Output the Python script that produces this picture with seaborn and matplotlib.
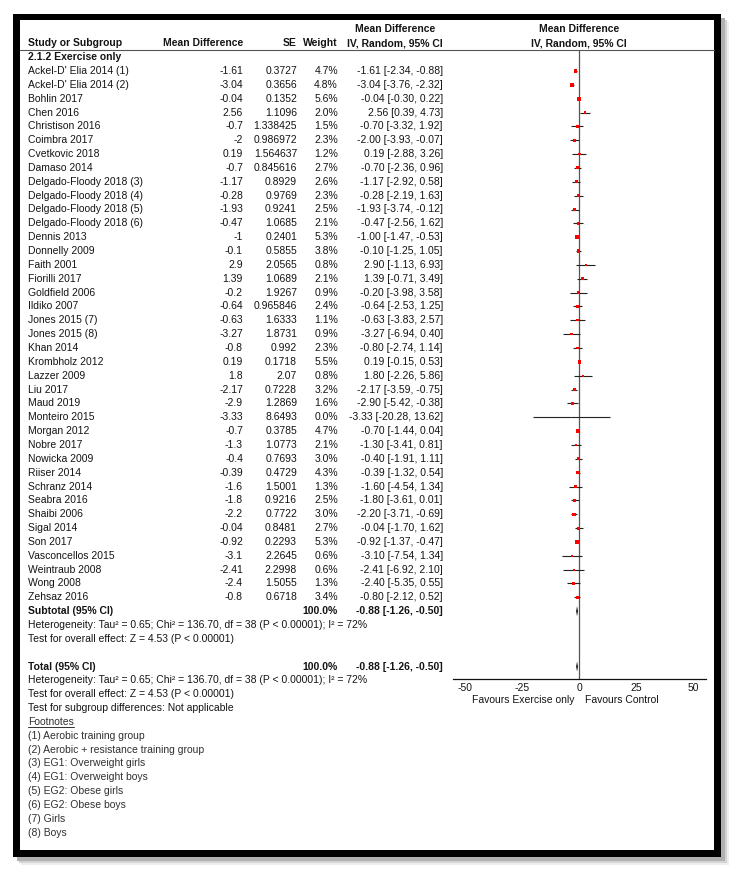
import matplotlib
matplotlib.use("Agg")
import matplotlib.pyplot as plt
import seaborn as sns
import numpy as np
import pandas as pd
from matplotlib.patches import Rectangle

# ---------------- data ----------------
studies = [
    "Ackel-D' Elia 2014 (1)", "Ackel-D' Elia 2014 (2)", "Bohlin 2017", "Chen 2016",
    "Christison 2016", "Coimbra 2017", "Cvetkovic 2018", "Damaso 2014",
    "Delgado-Floody 2018 (3)", "Delgado-Floody 2018 (4)", "Delgado-Floody 2018 (5)",
    "Delgado-Floody 2018 (6)", "Dennis 2013", "Donnelly 2009", "Faith 2001",
    "Fiorilli 2017", "Goldfield 2006", "Ildiko 2007", "Jones 2015 (7)", "Jones 2015 (8)",
    "Khan 2014", "Krombholz 2012", "Lazzer 2009", "Liu 2017", "Maud 2019",
    "Monteiro 2015", "Morgan 2012", "Nobre 2017", "Nowicka 2009", "Riiser 2014",
    "Schranz 2014", "Seabra 2016", "Shaibi 2006", "Sigal 2014", "Son 2017",
    "Vasconcellos 2015", "Weintraub 2008", "Wong 2008", "Zehsaz 2016",
]
mean_diff = [-1.61, -3.04, -0.04, 2.56, -0.7, -2, 0.19, -0.7, -1.17, -0.28, -1.93,
             -0.47, -1, -0.1, 2.9, 1.39, -0.2, -0.64, -0.63, -3.27, -0.8, 0.19, 1.8,
             -2.17, -2.9, -3.33, -0.7, -1.3, -0.4, -0.39, -1.6, -1.8, -2.2, -0.04,
             -0.92, -3.1, -2.41, -2.4, -0.8]
se = [0.3727, 0.3656, 0.1352, 1.1096, 1.338425, 0.986972, 1.564637, 0.845616, 0.8929,
      0.9769, 0.9241, 1.0685, 0.2401, 0.5855, 2.0565, 1.0689, 1.9267, 0.965846, 1.6333,
      1.8731, 0.992, 0.1718, 2.07, 0.7228, 1.2869, 8.6493, 0.3785, 1.0773, 0.7693,
      0.4729, 1.5001, 0.9216, 0.7722, 0.8481, 0.2293, 2.2645, 2.2998, 1.5055, 0.6718]
weight = [4.7, 4.8, 5.6, 2.0, 1.5, 2.3, 1.2, 2.7, 2.6, 2.3, 2.5, 2.1, 5.3, 3.8, 0.8,
          2.1, 0.9, 2.4, 1.1, 0.9, 2.3, 5.5, 0.8, 3.2, 1.6, 0.0, 4.7, 2.1, 3.0, 4.3,
          1.3, 2.5, 3.0, 2.7, 5.3, 0.6, 0.6, 1.3, 3.4]
ci_low = [-2.34, -3.76, -0.30, 0.39, -3.32, -3.93, -2.88, -2.36, -2.92, -2.19, -3.74,
          -2.56, -1.47, -1.25, -1.13, -0.71, -3.98, -2.53, -3.83, -6.94, -2.74, -0.15,
          -2.26, -3.59, -5.42, -20.28, -1.44, -3.41, -1.91, -1.32, -4.54, -3.61, -3.71,
          -1.70, -1.37, -7.54, -6.92, -5.35, -2.12]
ci_high = [-0.88, -2.32, 0.22, 4.73, 1.92, -0.07, 3.26, 0.96, 0.58, 1.63, -0.12, 1.62,
           -0.53, 1.05, 6.93, 3.49, 3.58, 1.25, 2.57, 0.40, 1.14, 0.53, 5.86, -0.75,
           -0.38, 13.62, 0.04, 0.81, 1.11, 0.54, 1.34, 0.01, -0.69, 1.62, -0.47, 1.34,
           2.10, 0.55, 0.52]
summary_md, summary_lo, summary_hi = -0.88, -1.26, -0.50
x_ticks = [-50, -25, 0, 25, 50]

header_group = "2.1.2 Exercise only"
het_text = "Heterogeneity: Tau\u00b2 = 0.65; Chi\u00b2 = 136.70, df = 38 (P < 0.00001); I\u00b2 = 72%"
effect_text = "Test for overall effect: Z = 4.53 (P < 0.00001)"
subgroup_text = "Test for subgroup differences: Not applicable"
footnotes = ["(1) Aerobic training group", "(2) Aerobic + resistance training group",
             "(3) EG1: Overweight girls", "(4) EG1: Overweight boys",
             "(5) EG2: Obese girls", "(6) EG2: Obese boys", "(7) Girls", "(8) Boys"]

# ---------------- style ----------------
sns.set_style("white")
plt.rcParams["font.family"] = ["Liberation Sans", "DejaVu Sans"]
plt.rcParams["axes.unicode_minus"] = False

W, H = 734, 874
FS = 7.45
Y0, P = 71.0, 13.85       # pixel y of first study row, row pitch
TXT = "#141414"
FOOT = "#303030"

fig = plt.figure(figsize=(W / 100, H / 100), dpi=100)
bg = fig.add_axes([0, 0, 1, 1])
bg.set_xlim(0, W)
bg.set_ylim(H, 0)
bg.axis("off")

# frame with shadow
for off, col in [(8, "#eeeeee"), (6, "#d4d4d4"), (4, "#b0b0b0")]:
    bg.add_patch(Rectangle((13 + off, 14 + off), 708, 843, fc=col, ec="none", zorder=0))
bg.add_patch(Rectangle((13, 14), 708, 843, fc="black", ec="none", zorder=1))
bg.add_patch(Rectangle((20, 20), 694, 830, fc="white", ec="none", zorder=2))


def row_y(r):
    return Y0 + P * r


def t(x, r, s, ha="left", bold=False, color=TXT):
    return bg.text(x, row_y(r), s, ha=ha, va="center", fontsize=FS,
                   fontweight="bold" if bold else "normal", color=color, zorder=5)


X_NAME, X_MD, X_SE, X_W, X_CI, X_CIC = 28, 243, 297, 338, 443, 395

# headers
t(X_CIC, -3, "Mean Difference", ha="center", bold=True)
t(579, -3, "Mean Difference", ha="center", bold=True)
t(X_NAME, -2, "Study or Subgroup", bold=True)
t(X_MD, -2, "Mean Difference", ha="right", bold=True)
t(X_SE, -2, "SE", ha="right", bold=True)
t(X_W, -2, "Weight", ha="right", bold=True)
t(X_CIC, -2, "IV, Random, 95% CI", ha="center", bold=True)
t(579, -2, "IV, Random, 95% CI", ha="center", bold=True)
bg.plot([20, 714], [50, 50], color="#555555", lw=0.8, zorder=5)
t(X_NAME, -1, header_group, bold=True)

for i, name in enumerate(studies):
    t(X_NAME, i, name)
    t(X_MD, i, f"{mean_diff[i]:.10g}", ha="right")
    t(X_SE, i, f"{se[i]:.10g}", ha="right")
    t(X_W, i, f"{weight[i]:.1f}%", ha="right")
    t(X_CI, i, f"{mean_diff[i]:.2f} [{ci_low[i]:.2f}, {ci_high[i]:.2f}]", ha="right")

n = len(studies)
ci_sum = f"{summary_md:.2f} [{summary_lo:.2f}, {summary_hi:.2f}]"
t(X_NAME, n, "Subtotal (95% CI)", bold=True)
t(X_W, n, "100.0%", ha="right", bold=True)
t(X_CI, n, ci_sum, ha="right", bold=True)
t(X_NAME, n + 1, het_text)
t(X_NAME, n + 2, effect_text)
t(X_NAME, n + 4, "Total (95% CI)", bold=True)
t(X_W, n + 4, "100.0%", ha="right", bold=True)
t(X_CI, n + 4, ci_sum, ha="right", bold=True)
t(X_NAME, n + 5, het_text)
t(X_NAME, n + 6, effect_text)
t(X_NAME, n + 7, subgroup_text)
fn = t(X_NAME, n + 8, "Footnotes", color=FOOT)
for k, f in enumerate(footnotes):
    t(X_NAME, n + 9 + k, f, color=FOOT)

bg.text(574, 700, "Favours Exercise only", ha="right", va="center", fontsize=FS, color=TXT)
bg.text(585, 700, "Favours Control", ha="left", va="center", fontsize=FS, color=TXT)

# ---------------- forest axes ----------------
top_px, bot_px, left_px, right_px = 50, 679, 453, 706
ax = fig.add_axes([left_px / W, 1 - bot_px / H, (right_px - left_px) / W, (bot_px - top_px) / H])
ax.patch.set_alpha(0)
rows = np.arange(n)

ax.axvline(0, color="#555555", lw=0.9, zorder=1)
ax.hlines(rows, ci_low, ci_high, color="#222222", lw=0.8, zorder=2)

side_px = 1.2 + 1.1 * np.sqrt(np.array(weight))
area = (side_px * 0.72) ** 2
df = pd.DataFrame({"md": mean_diff, "row": rows, "area": area})
amin, amax = area.min(), area.max()
sns.scatterplot(data=df, x="md", y="row", size="area", sizes=(amin, amax),
                size_norm=(amin, amax), marker="s", color="red", linewidth=0,
                legend=False, ax=ax, zorder=3)

for r in [n, n + 4]:
    ax.fill([summary_lo, summary_md, summary_hi, summary_md],
            [r, r - 0.36, r, r + 0.36], color="black", lw=0, zorder=4)

ax.set_xlim(-55.3, 55.7)
ax.set_ylim((bot_px - Y0) / P, (top_px - Y0) / P)
ax.set_xticks(x_ticks)
ax.set_xticklabels([str(v) for v in x_ticks])
ax.set_yticks([])
ax.set_xlabel("")
ax.set_ylabel("")
for s in ["top", "left", "right"]:
    ax.spines[s].set_visible(False)
ax.spines["bottom"].set_color("#111111")
ax.spines["bottom"].set_linewidth(0.9)
ax.tick_params(axis="x", direction="inout", length=5, width=0.8, color="#111111",
               pad=0.5, labelsize=FS, labelcolor=TXT)

# underline "Footnotes"
fig.canvas.draw()
bb = fn.get_window_extent(renderer=fig.canvas.get_renderer())
x0p, x1p = bb.x0, bb.x1
yu = row_y(n + 8) + 5.5
bg.plot([x0p, x1p], [yu, yu], color=FOOT, lw=0.7, zorder=5)

fig.savefig("out.png", dpi=100)
